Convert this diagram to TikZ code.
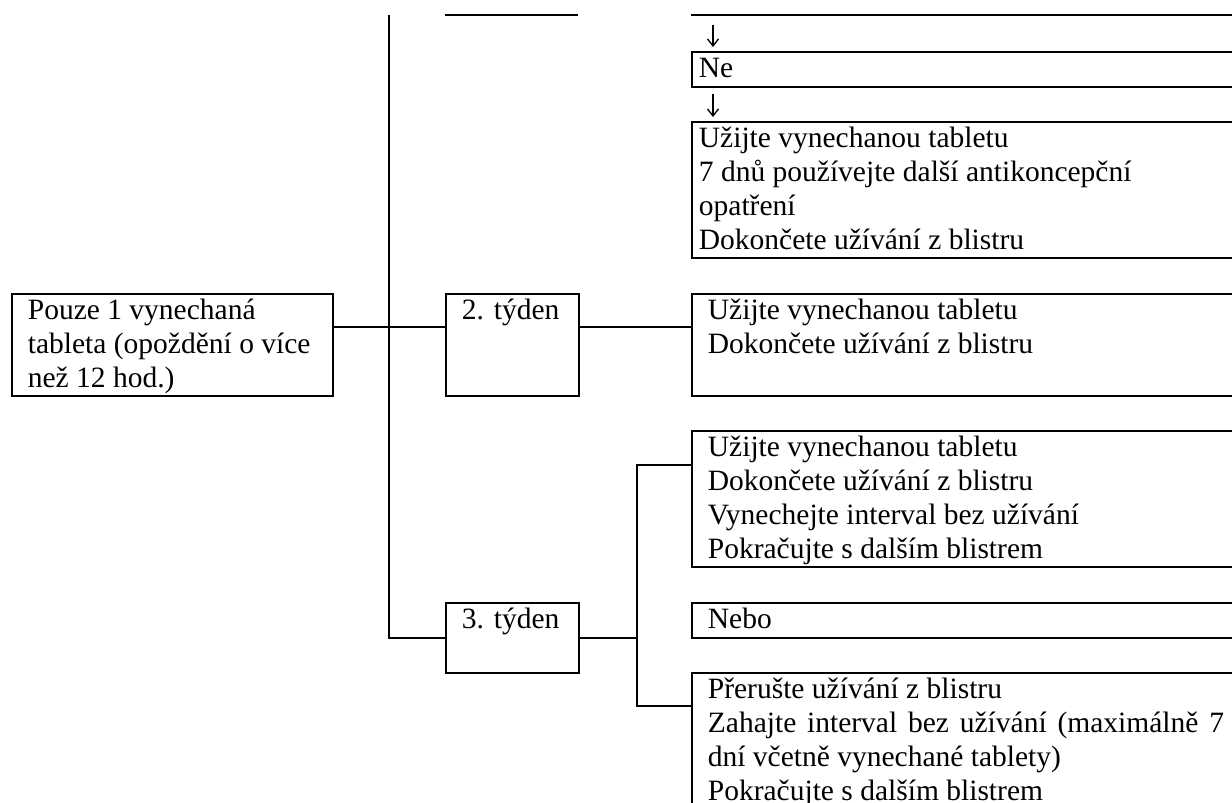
\documentclass[tikz,border=0pt]{standalone}
\usepackage{fontspec}
\setmainfont{Liberation Serif}
\usetikzlibrary{arrows.meta}
\newcommand{\celltext}[3]{\parbox[c][#1pt][t]{#2pt}{\rule{0pt}{26pt}#3}}

\begin{document}
\begin{tikzpicture}[x=1pt, y=-1pt, line width=1.8pt,
        font=\fontsize{29.5}{34}\selectfont,
        cell/.style={draw, anchor=north west, inner xsep=16pt, inner ysep=0pt},
        topcell/.style={cell, inner xsep=7pt},
        sipka/.style={line width=1.3pt, -{Straight Barb[length=7pt, width=11pt]}}]
            \useasboundingbox (0,0) rectangle (1232,803);
            \clip (0,0) rectangle (1232,803);
            \node[cell] (pouze) at (11,293) {\celltext{102}{289}{Pouze 1 vynechaná\\tableta (opoždění o více\\než 12 hod.)}};
            \node[cell] (tyden2) at (445,293) {\celltext{102}{101}{2. týden}};
            \node[cell] (tyden3) at (445,602) {\celltext{70}{101}{3. týden}};
            \node[cell] (uzijte) at (691,293) {\celltext{102}{516}{Užijte vynechanou tabletu\\Dokončete užívání z blistru}};
            \node[cell] (varA) at (691,430) {\celltext{136}{516}{Užijte vynechanou tabletu\\Dokončete užívání z blistru\\Vynechejte interval bez užívání\\Pokračujte s dalším blistrem}};
            \node[cell] (nebo) at (691,602) {\celltext{35}{516}{Nebo}};
            \node[cell] (varB) at (691,672) {\celltext{140}{516}{Přerušte užívání z blistru\\Zahajte interval bez užívání (maximálně 7\linebreak dní včetně vynechané tablety)\\Pokračujte s dalším blistrem}};
            \node[topcell] (ne) at (691,51) {\celltext{35}{540}{Ne}};
            \node[topcell] (doplnek) at (691,121) {\celltext{136}{540}{Užijte vynechanou tabletu\\7 dnů používejte další antikoncepční\\opatření\\Dokončete užívání z blistru}};
            \coordinate (horniL) at (445,15);
            \coordinate (horniR) at (691,15);
            \coordinate (kmen) at (389,15);
            \coordinate (vetev) at ([xshift=57pt]tyden3.east);
            \draw (horniL) -- ++(133,0);
            \draw (horniR) -- ++(560,0);
            \draw[sipka] ([xshift=22pt,yshift=-10pt]horniR) -- ([xshift=22pt,yshift=4pt]ne.north west);
            \draw[sipka] ([xshift=22pt,yshift=-6pt]ne.south west) -- ([xshift=22pt,yshift=4pt]doplnek.north west);
            \draw (kmen) |- (tyden3.west);
            \draw ([yshift=-34pt]pouze.north east) -- ([yshift=-34pt]tyden2.north west);
            \draw ([yshift=-34pt]tyden2.north east) -- ([yshift=-34pt]uzijte.north west);
            \draw (tyden3.east) -- (vetev);
            \draw ([yshift=-35pt]varA.north west) -| (vetev) |- ([yshift=-34pt]varB.north west);
        \end{tikzpicture}
\end{document}
